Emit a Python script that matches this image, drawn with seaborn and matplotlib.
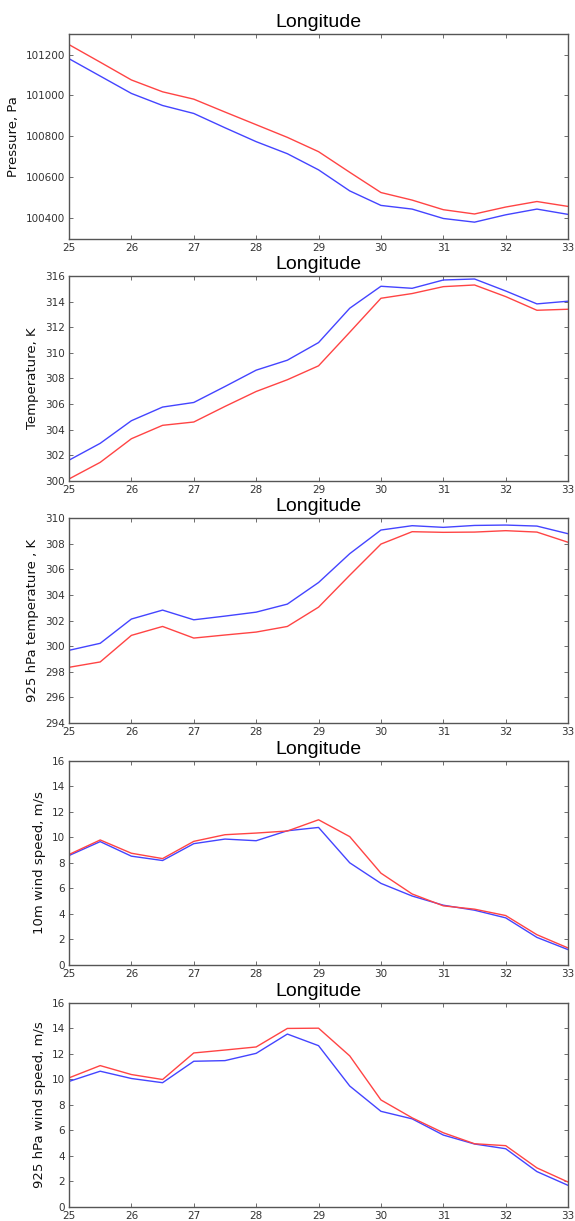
import numpy as np
import pandas as pd
import matplotlib
matplotlib.use("Agg")
import matplotlib.pyplot as plt
import seaborn as sns

# longitude grid
lon = [25, 25.5, 26, 26.5, 27, 27.5, 28, 28.5, 29, 29.5, 30, 30.5, 31, 31.5, 32, 32.5, 33]

pres_blue = [101180, 101095, 101010, 100951, 100912, 100842, 100774, 100715, 100636,
             100533, 100462, 100444, 100398, 100380, 100416, 100444, 100418]
pres_red = [101249, 101163, 101076, 101018, 100982, 100919, 100857, 100795, 100725,
            100624, 100525, 100488, 100441, 100420, 100454, 100481, 100457]

temp_blue = [301.6, 302.92, 304.69, 305.76, 306.12, 307.37, 308.65, 309.43, 310.81,
             313.5, 315.22, 315.06, 315.71, 315.79, 314.85, 313.84, 314.05]
temp_red = [300.13, 301.43, 303.28, 304.33, 304.59, 305.81, 306.98, 307.9, 308.99,
            311.62, 314.28, 314.65, 315.19, 315.32, 314.41, 313.34, 313.42]

t925_blue = [299.67, 300.22, 302.12, 302.82, 302.06, 302.35, 302.66, 303.29, 304.98,
             307.24, 309.09, 309.43, 309.3, 309.45, 309.48, 309.4, 308.8]
t925_red = [298.34, 298.76, 300.84, 301.54, 300.63, 300.87, 301.1, 301.54, 303.05,
            305.55, 307.99, 308.96, 308.91, 308.93, 309.04, 308.93, 308.13]

ws10_blue = [8.56, 9.65, 8.51, 8.17, 9.49, 9.85, 9.72, 10.5, 10.76,
             7.99, 6.38, 5.39, 4.67, 4.28, 3.68, 2.15, 1.19]
ws10_red = [8.64, 9.78, 8.74, 8.32, 9.67, 10.19, 10.32, 10.48, 11.36,
            10.04, 7.18, 5.55, 4.62, 4.36, 3.86, 2.36, 1.32]

ws925_blue = [9.83, 10.63, 10.06, 9.73, 11.41, 11.46, 12.03, 13.54, 12.63,
              9.47, 7.49, 6.9, 5.63, 4.93, 4.56, 2.77, 1.69]
ws925_red = [10.11, 11.07, 10.37, 9.98, 12.06, 12.29, 12.53, 13.98, 14.0,
             11.83, 8.38, 6.98, 5.81, 4.95, 4.8, 3.06, 1.95]

ylabels = ["Pressure, Pa", "Temperature, K", "925 hPa temperature , K",
           "10m wind speed, m/s", "925 hPa wind speed, m/s"]
ylims = [(100300, 101300), (300, 316), (294, 310), (0, 16), (0, 16)]
series = [(pres_blue, pres_red), (temp_blue, temp_red), (t925_blue, t925_red),
          (ws10_blue, ws10_red), (ws925_blue, ws925_red)]

sns.set_style("ticks")
plt.rcParams['font.family'] = ['DejaVu Sans']

fig, axes = plt.subplots(5, 1, figsize=(5.75, 12.21), dpi=100)
fig.subplots_adjust(left=0.12, right=0.988, top=0.972, bottom=0.0115, hspace=0.185)

for ax, (b, r), lab, lim in zip(axes, series, ylabels, ylims):
    df = pd.DataFrame({"lon": lon, "blue": b, "red": r})
    sns.lineplot(data=df, x="lon", y="blue", ax=ax, color="#4444ff", lw=1.0)
    sns.lineplot(data=df, x="lon", y="red", ax=ax, color="#ff4444", lw=1.0)
    ax.set_xlim(25, 33)
    ax.set_ylim(*lim)
    ax.set_xticks(np.arange(25, 34, 1))
    ax.set_xlabel("")
    ax.set_ylabel(lab, fontsize=9.5, color="#111111")
    ax.set_title("Longitude", fontsize=14, family="Liberation Sans", color="black", pad=5)
    ax.tick_params(direction="in", top=True, right=True, length=3, width=0.6,
                   labelsize=7.5, colors="#555555", labelcolor="#333333", pad=3)
    for s in ax.spines.values():
        s.set_visible(True)
        s.set_color("#555555")
        s.set_linewidth(1.0)

fig.savefig("out.png", dpi=100)
